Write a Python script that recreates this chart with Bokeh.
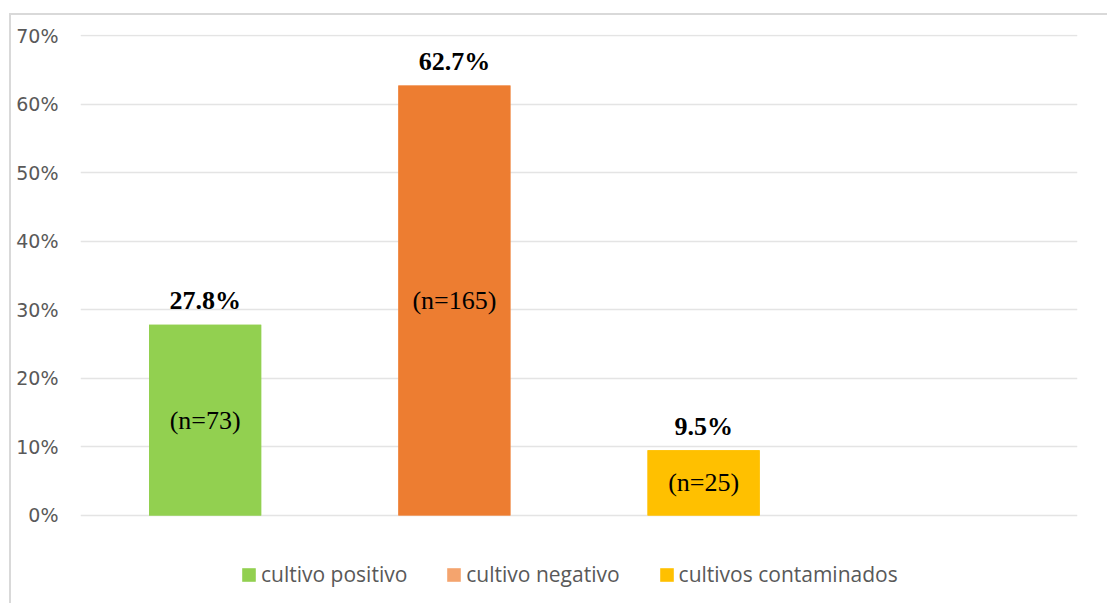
from bokeh.plotting import figure
from bokeh.models import (Range1d, ColumnDataSource, NumeralTickFormatter,
                          FixedTicker, Legend, LegendItem)
from bokeh.core.properties import value
from bokeh.embed import file_html
from bokeh.resources import INLINE

# ---- data ----
categories = ["cultivo positivo", "cultivo negativo", "cultivos contaminados"]
percentages = [27.8, 62.7, 9.5]
counts = [73, 165, 25]
bar_colors = ["#92D050", "#ED7D31", "#FFC000"]
legend_colors = ["#92D050", "#F4A46E", "#FFC000"]
y_ticks = [0, 0.1, 0.2, 0.3, 0.4, 0.5, 0.6, 0.7]

n = len(categories)
xs = [i + 1 for i in range(n)]
src = ColumnDataSource(dict(
    x=xs,
    top=[v / 100 for v in percentages],
    mid=[v / 200 for v in percentages],
    pct_label=[f"{v}%" for v in percentages],
    n_label=[f"(n={c})" for c in counts],
    color=bar_colors,
    legend_color=legend_colors,
))

# frame extends below 0 to host the legend (no ticks there)
p = figure(width=1098, height=590,
           x_range=Range1d(0.5, n + 1.5), y_range=Range1d(-0.124, 0.7015),
           x_axis_location=None,
           output_backend="svg", toolbar_location=None,
           min_border_left=69, min_border_right=32,
           min_border_top=19, min_border_bottom=5,
           outline_line_color=None, background_fill_color="white",
           border_fill_color="white",
           margin=(13, 0, 0, 9))
p.styles = {"border-left": "2px solid #D9D9D9", "border-top": "2px solid #D9D9D9"}

# swatch renderer (legend colours), covered exactly by the real bars
r_legend = p.vbar(x="x", top="top", width=0.45, bottom=0, source=src,
                  fill_color="legend_color", line_color=None)
p.vbar(x="x", top="top", width=0.45, bottom=0, source=src,
       fill_color="color", line_color=None)

# data labels
p.text(x="x", y="top", text="pct_label", source=src,
       text_font=value("Liberation Serif"), text_font_style="bold",
       text_font_size="26px", text_color="black",
       text_align="center", text_baseline="alphabetic", y_offset=-24)
p.text(x="x", y="mid", text="n_label", source=src,
       text_font=value("Liberation Serif"), text_font_size="26px",
       text_color="black", text_align="center", text_baseline="middle")

# y axis
ticker = FixedTicker(ticks=y_ticks)
p.yaxis.ticker = ticker
p.ygrid.ticker = ticker
p.yaxis.formatter = NumeralTickFormatter(format="0%")
p.yaxis.axis_line_color = None
p.yaxis.major_tick_line_color = None
p.yaxis.minor_tick_line_color = None
p.yaxis.major_tick_out = 0
p.yaxis.minor_tick_out = 0
p.yaxis.major_label_standoff = 22
p.yaxis.major_label_text_font = "DejaVu Sans"
p.yaxis.major_label_text_font_size = "19px"
p.yaxis.major_label_text_color = "#595959"
p.xgrid.visible = False
p.ygrid.grid_line_color = "#E4E4E4"
p.ygrid.grid_line_width = 1.5

# legend
items = [LegendItem(label=lab, renderers=[r_legend], index=i)
         for i, lab in enumerate(categories)]

legend = Legend(items=items, orientation="horizontal",
                location=(160, 12),
                glyph_width=17, glyph_height=17, label_standoff=4,
                spacing=38, padding=0, margin=0,
                border_line_color=None, background_fill_alpha=0,
                label_text_font="Open Sans", label_text_font_size="21px",
                label_text_color="#595959", label_height=20)
p.add_layout(legend, "center")

open("out.html", "w").write(file_html(p, INLINE))
